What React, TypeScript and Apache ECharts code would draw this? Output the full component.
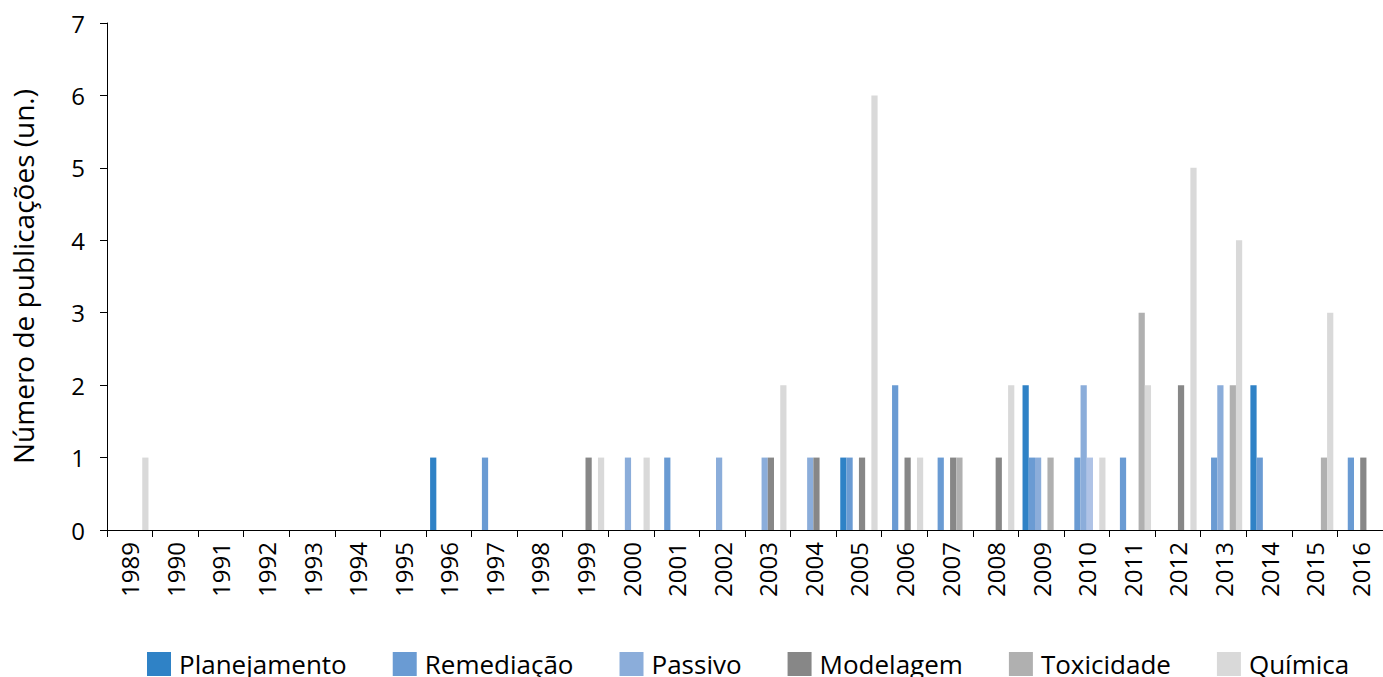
import React, { useEffect, useRef } from 'react';
import * as echarts from 'echarts';

const years = [
  '1989', '1990', '1991', '1992', '1993', '1994', '1995', '1996', '1997', '1998',
  '1999', '2000', '2001', '2002', '2003', '2004', '2005', '2006', '2007', '2008',
  '2009', '2010', '2011', '2012', '2013', '2014', '2015', '2016',
];

const planejamento = [0, 0, 0, 0, 0, 0, 0, 1, 0, 0, 0, 0, 0, 0, 0, 0, 1, 0, 0, 0, 2, 0, 0, 0, 0, 2, 0, 0];
const remediacao = [0, 0, 0, 0, 0, 0, 0, 0, 1, 0, 0, 0, 1, 0, 0, 0, 1, 2, 1, 0, 1, 1, 1, 0, 1, 1, 0, 1];
const passivo = [0, 0, 0, 0, 0, 0, 0, 0, 0, 0, 0, 1, 0, 1, 1, 1, 0, 0, 0, 0, 1, 2, 0, 0, 2, 0, 0, 0];
const modelagem = [0, 0, 0, 0, 0, 0, 0, 0, 0, 0, 1, 0, 0, 0, 1, 1, 1, 1, 1, 1, 0, 1, 0, 2, 0, 0, 0, 1];
const toxicidade = [0, 0, 0, 0, 0, 0, 0, 0, 0, 0, 0, 0, 0, 0, 0, 0, 0, 0, 1, 0, 1, 0, 3, 0, 2, 0, 1, 0];
const quimica = [1, 0, 0, 0, 0, 0, 0, 0, 0, 0, 1, 1, 0, 0, 2, 0, 6, 1, 0, 2, 0, 1, 2, 5, 4, 0, 3, 0];

const seriesNames = ['Planejamento', 'Remediação', 'Passivo', 'Modelagem', 'Toxicidade', 'Química'];
const seriesValues = [planejamento, remediacao, passivo, modelagem, toxicidade, quimica];
const seriesColors = ['#2f82c6', '#6a9bd3', '#8badda', '#878787', '#b0b0b0', '#d9d9d9'];

// one point in the original is drawn in a different colour
const oddPointSeries = 'Modelagem';
const oddPointYear = '2010';
const oddPointColor = '#afc3e6';

const yTicks = [0, 1, 2, 3, 4, 5, 6, 7];

const FONT = 'Open Sans';

export default function App() {
  const ref = useRef<HTMLDivElement>(null);

  useEffect(() => {
    if (!ref.current) return;
    const chart = echarts.init(ref.current, undefined, { renderer: 'svg' });
    const option: any = {
      animation: false,
      backgroundColor: '#ffffff',
      textStyle: { fontFamily: FONT },
      grid: { left: 107, top: 23, width: 1283, height: 507, containLabel: false },
      legend: {
        data: seriesNames,
        left: 147,
        top: 651,
        padding: 0,
        itemWidth: 24,
        itemHeight: 24,
        itemGap: 46,
        icon: 'rect',
        textStyle: { fontFamily: FONT, fontSize: 26, color: '#000', padding: [0, 0, 0, 3] },
      },
      xAxis: {
        type: 'category',
        data: years,
        axisLine: { lineStyle: { color: '#000', width: 1 } },
        axisTick: { show: true, length: 7, interval: 0, lineStyle: { color: '#000' } },
        axisLabel: {
          interval: 0,
          rotate: 90,
          margin: 12,
          fontFamily: FONT,
          fontSize: 24,
          color: '#000',
        },
        splitLine: { show: false },
      },
      yAxis: {
        type: 'value',
        min: yTicks[0],
        max: yTicks[yTicks.length - 1],
        interval: 1,
        name: 'Número de publicações (un.)',
        nameLocation: 'middle',
        nameGap: 70,
        nameTextStyle: { fontFamily: FONT, fontSize: 28, color: '#000' },
        axisLine: { show: true, lineStyle: { color: '#000', width: 1 } },
        axisTick: { show: true, length: 7, lineStyle: { color: '#000' } },
        axisLabel: { margin: 22, fontFamily: FONT, fontSize: 24, color: '#000' },
        splitLine: { show: false },
      },
      series: seriesNames.map((name, si) => ({
        name,
        type: 'bar',
        barGap: '0%',
        barCategoryGap: '18%',
        itemStyle: { color: seriesColors[si] },
        data: seriesValues[si].map((v, i) =>
          name === oddPointSeries && years[i] === oddPointYear
            ? { value: v, itemStyle: { color: oddPointColor } }
            : v
        ),
      })),
    };
    chart.setOption(option);
    return () => chart.dispose();
  }, []);

  return (
    <div
      ref={ref}
      style={{ position: 'absolute', left: 0, top: 0, width: 1383, height: 677 }}
    />
  );
}
